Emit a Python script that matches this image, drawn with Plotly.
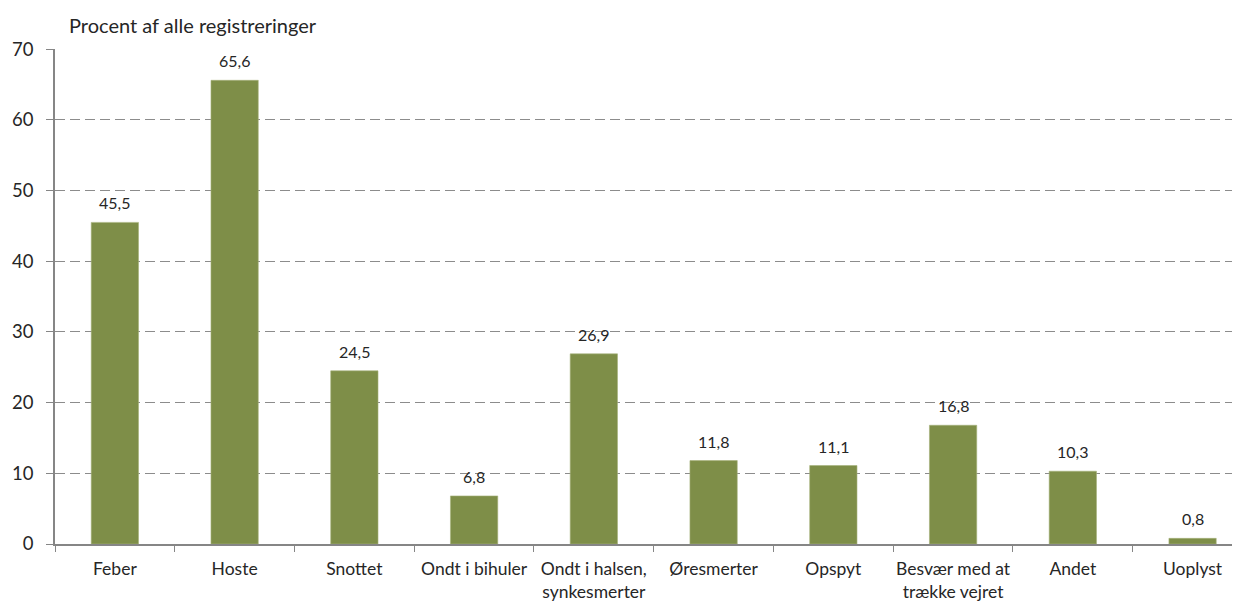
import plotly.graph_objects as go

categories = ["Feber", "Hoste", "Snottet", "Ondt i bihuler", "Ondt i halsen,<br>synkesmerter",
              "Øresmerter", "Opspyt", "Besvær med at<br>trække vejret", "Andet", "Uoplyst"]
values = [45.5, 65.6, 24.5, 6.8, 26.9, 11.8, 11.1, 16.8, 10.3, 0.8]
value_labels = ["45,5", "65,6", "24,5", "6,8", "26,9", "11,8", "11,1", "16,8", "10,3", "0,8"]
y_ticks = [0, 10, 20, 30, 40, 50, 60, 70]
y_title = "Procent af alle registreringer"

FONT = "Lato, Carlito, Calibri, sans-serif"
TXT = "#262626"
BAR = "#7E8E48"
AX = "#868686"

fig = go.Figure()
fig.add_trace(go.Bar(
    x=categories, y=values, width=0.395,
    marker=dict(color=BAR, line=dict(color="#A6B27A", width=0.6)),
    hoverinfo="skip",
))

for c, v, t in zip(categories, values, value_labels):
    fig.add_annotation(x=c, y=v, text=t, showarrow=False, yanchor="bottom",
                       yshift=8, font=dict(family=FONT, size=16, color=TXT))

fig.add_annotation(xref="paper", yref="paper", x=0.0101, y=1.0, yshift=10,
                   xanchor="left", yanchor="bottom", text=y_title, showarrow=False,
                   font=dict(family=FONT, size=20, color=TXT))

fig.update_layout(
    width=1240, height=602,
    margin=dict(l=47, r=8, t=41, b=66, autoexpand=False),
    paper_bgcolor="white", plot_bgcolor="white",
    showlegend=False, bargap=0.6,
    font=dict(family=FONT, color=TXT),
)
fig.update_xaxes(
    type="category", range=[-0.5, 9.396], automargin=False, tickangle=0,
    tickson="boundaries", ticks="outside", ticklen=6, tickcolor=AX, tickwidth=1.3,
    showline=True, linecolor=AX, linewidth=1.5, ticklabelstandoff=8,
    showgrid=False, tickfont=dict(family=FONT, size=17.5, color=TXT),
)
fig.update_yaxes(
    range=[0, 70.03], tickvals=y_ticks, ticktext=[str(v) for v in y_ticks],
    automargin=False,
    ticks="outside", ticklen=7, tickcolor=AX, tickwidth=1.3,
    showline=True, linecolor=AX, linewidth=1.5,
    showgrid=True, gridcolor="#8C8C8C", gridwidth=1.2, griddash="10px,5px",
    zeroline=False, tickfont=dict(family=FONT, size=18.5, color=TXT),
    ticklabelstandoff=9,
)

fig.write_html("out.html")
